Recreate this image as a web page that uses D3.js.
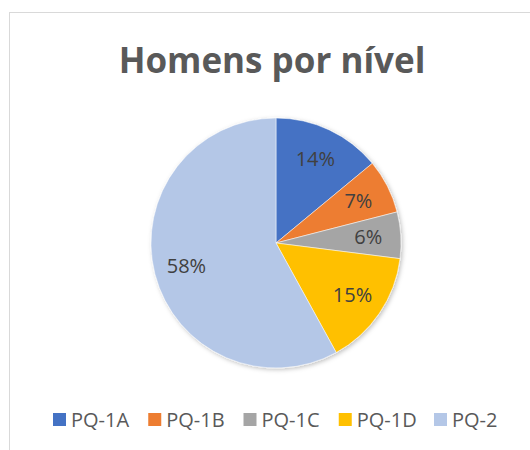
<!DOCTYPE html>
<html>
<head>
<meta charset="utf-8">
<script src="https://cdn.jsdelivr.net/npm/d3@7"></script>
<style>
  body { margin: 0; background: #fff; }
  svg { display: block; font-family: "Open Sans", "Liberation Sans", sans-serif; }
</style>
</head>
<body>
<div id="chart"></div>
<script>
var categories = ["PQ-1A", "PQ-1B", "PQ-1C", "PQ-1D", "PQ-2"];
var values = [14, 7, 6, 15, 58];
var colors = ["#4472C4", "#ED7D31", "#A5A5A5", "#FFC000", "#B4C7E7"];

var width = 530, height = 450;
var cx = 276, cy = 243, radius = 125;

var svg = d3.select("#chart").append("svg")
    .attr("width", width)
    .attr("height", height);

// chart frame (right/bottom edges fall outside the picture)
svg.append("rect")
    .attr("x", 9.5).attr("y", 12.5)
    .attr("width", 700).attr("height", 700)
    .attr("fill", "#fff")
    .attr("stroke", "#d9d9d9");

svg.append("text")
    .attr("x", 272)
    .attr("y", 73)
    .attr("text-anchor", "middle")
    .attr("font-size", 35)
    .attr("font-weight", "bold")
    .attr("fill", "#595959")
    .text("Homens por nível");

var defs = svg.append("defs");
var f = defs.append("filter").attr("id", "shadow")
    .attr("x", "-20%").attr("y", "-20%").attr("width", "140%").attr("height", "140%");
f.append("feDropShadow")
    .attr("dx", 1.5).attr("dy", 1.5).attr("stdDeviation", 2)
    .attr("flood-color", "#000").attr("flood-opacity", 0.25);

var color = d3.scaleOrdinal().domain(categories).range(colors);

var pie = d3.pie().sort(null).value(function (d, i) { return values[i]; });
var arcs = pie(categories);

var arc = d3.arc().innerRadius(0).outerRadius(radius);
var labelArc = d3.arc().innerRadius(radius * 0.74).outerRadius(radius * 0.74);

var g = svg.append("g").attr("transform", "translate(" + cx + "," + cy + ")");

g.append("g").attr("filter", "url(#shadow)")
    .selectAll("path")
    .data(arcs)
    .enter()
    .append("path")
    .attr("d", arc)
    .attr("fill", function (d) { return color(d.data); })
    .attr("stroke", "#fff")
    .attr("stroke-width", 0.5);

var total = d3.sum(values);
g.selectAll("text.lbl")
    .data(arcs)
    .enter()
    .append("text")
    .attr("class", "lbl")
    .attr("transform", function (d) { return "translate(" + labelArc.centroid(d) + ")"; })
    .attr("text-anchor", "middle")
    .attr("dy", "0.35em")
    .attr("font-size", 20)
    .attr("fill", "#404040")
    .text(function (d) { return Math.round(d.value / total * 100) + "%"; });

// legend
var legendX = d3.scalePoint().domain(categories).range([53, 434]);
var legend = svg.append("g").selectAll("g")
    .data(categories)
    .enter()
    .append("g")
    .attr("transform", function (d) { return "translate(" + legendX(d) + ",413)"; });

legend.append("rect")
    .attr("width", 13).attr("height", 13)
    .attr("fill", function (d) { return color(d); });

legend.append("text")
    .attr("x", 18)
    .attr("y", 14)
    .attr("font-size", 20)
    .attr("fill", "#595959")
    .text(function (d) { return d; });
</script>
</body>
</html>
